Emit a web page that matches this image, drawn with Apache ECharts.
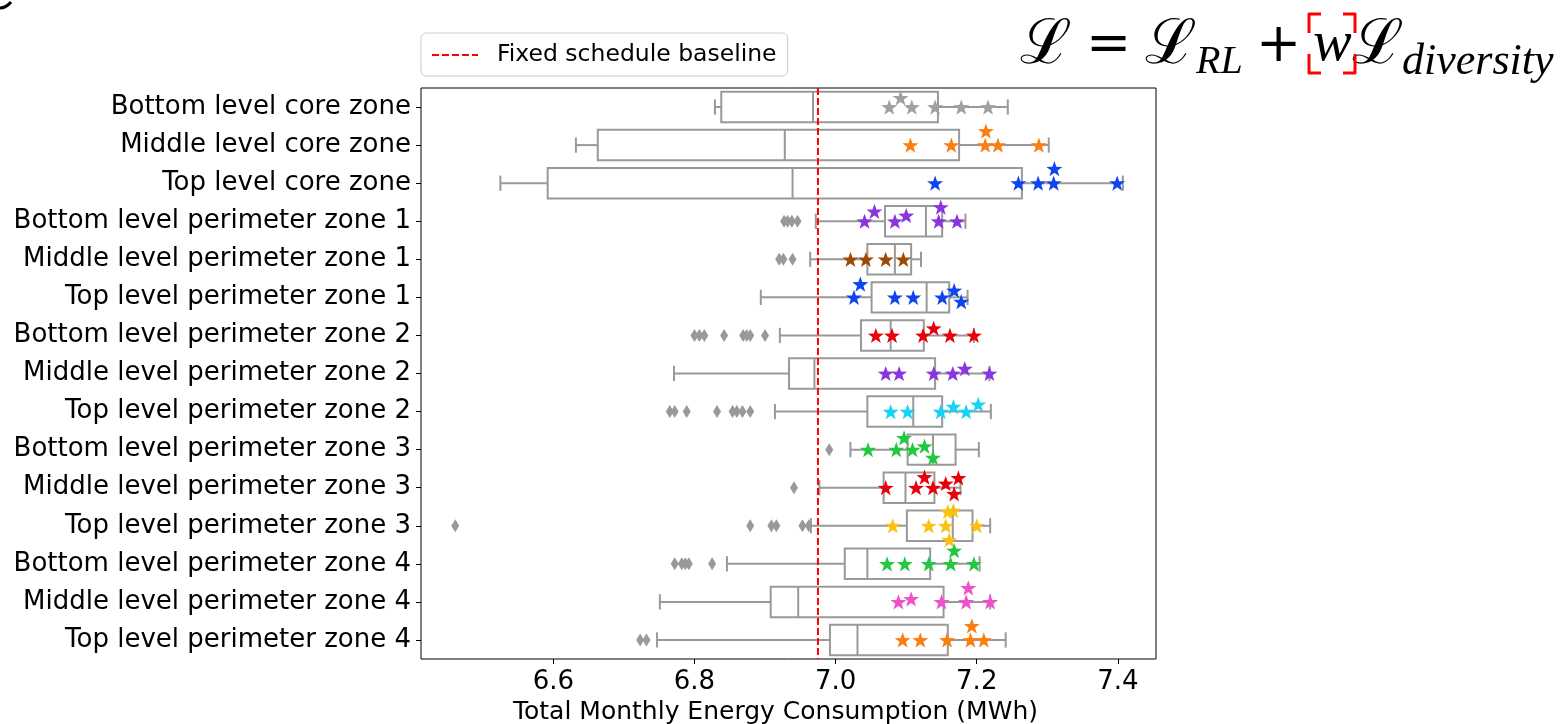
<!DOCTYPE html>
<html>
<head>
<meta charset="utf-8">
<script src="https://cdn.jsdelivr.net/npm/echarts@6/dist/echarts.min.js"></script>
<style>
html,body{margin:0;padding:0;background:#fff;}
#chart{width:1562px;height:724px;}
</style>
</head>
<body>
<div id="chart"></div>
<script>
const categories = [
  'Bottom level core zone', 'Middle level core zone', 'Top level core zone',
  'Bottom level perimeter zone 1', 'Middle level perimeter zone 1', 'Top level perimeter zone 1',
  'Bottom level perimeter zone 2', 'Middle level perimeter zone 2', 'Top level perimeter zone 2',
  'Bottom level perimeter zone 3', 'Middle level perimeter zone 3', 'Top level perimeter zone 3',
  'Bottom level perimeter zone 4', 'Middle level perimeter zone 4', 'Top level perimeter zone 4'
];

// [whisker low, Q1, median, Q3, whisker high]
const boxStats = [
  [6.829, 6.838, 6.968, 7.145, 7.244],
  [6.632, 6.663, 6.928, 7.175, 7.302],
  [6.525, 6.592, 6.939, 7.264, 7.407],
  [6.972, 7.070, 7.128, 7.151, 7.184],
  [6.964, 7.045, 7.084, 7.107, 7.121],
  [6.894, 7.051, 7.129, 7.161, 7.187],
  [6.921, 7.036, 7.078, 7.125, 7.196],
  [6.771, 6.934, 6.970, 7.141, 7.218],
  [6.914, 7.045, 7.110, 7.151, 7.220],
  [7.021, 7.102, 7.138, 7.170, 7.203],
  [6.977, 7.068, 7.099, 7.140, 7.177],
  [6.965, 7.101, 7.166, 7.194, 7.219],
  [6.846, 7.013, 7.045, 7.134, 7.204],
  [6.751, 6.908, 6.947, 7.153, 7.219],
  [6.747, 6.992, 7.031, 7.159, 7.241]
];

const outliers = [
  [], [], [],
  [6.927, 6.932, 6.938, 6.946],
  [6.920, 6.926, 6.939],
  [],
  [6.800, 6.807, 6.814, 6.842, 6.869, 6.874, 6.879, 6.900],
  [],
  [6.765, 6.772, 6.789, 6.832, 6.854, 6.860, 6.868, 6.879],
  [6.991],
  [6.941],
  [6.461, 6.879, 6.909, 6.916, 6.953, 6.962],
  [6.772, 6.782, 6.787, 6.792, 6.825],
  [],
  [6.723, 6.732]
];

// learned-policy results (stars)
const starValues = [
  [7.076, 7.092, 7.108, 7.141, 7.178, 7.216],
  [7.106, 7.164, 7.212, 7.213, 7.230, 7.288],
  [7.141, 7.259, 7.287, 7.309, 7.310, 7.399],
  [7.041, 7.055, 7.084, 7.100, 7.146, 7.149, 7.172],
  [7.021, 7.043, 7.071, 7.096],
  [7.026, 7.035, 7.084, 7.110, 7.151, 7.168, 7.178],
  [7.057, 7.080, 7.124, 7.139, 7.162, 7.196],
  [7.071, 7.090, 7.139, 7.166, 7.183, 7.218],
  [7.078, 7.102, 7.149, 7.167, 7.185, 7.202],
  [7.046, 7.086, 7.097, 7.109, 7.126, 7.138],
  [7.071, 7.114, 7.126, 7.138, 7.156, 7.168, 7.174],
  [7.081, 7.132, 7.156, 7.159, 7.167, 7.161, 7.200],
  [7.073, 7.098, 7.132, 7.163, 7.168, 7.196],
  [7.089, 7.107, 7.150, 7.185, 7.188, 7.219],
  [7.095, 7.120, 7.158, 7.191, 7.193, 7.210]
];
// swarm displacement of each star, in category units (negative = up)
const starLifts = [
  [0, -0.24, 0, 0, 0, 0],
  [0, 0, 0, -0.37, 0, 0],
  [0, 0, 0, 0, -0.38, 0],
  [0, -0.26, 0, -0.15, 0, -0.37, 0],
  [0, 0, 0, 0],
  [0, -0.35, 0, 0, 0, -0.18, 0.11],
  [0, 0, 0, -0.19, 0, 0],
  [0, 0, 0, 0, -0.13, 0],
  [0, 0, 0, -0.13, 0, -0.19],
  [0, 0, -0.31, 0, -0.09, 0.21],
  [0, 0, -0.28, 0, -0.11, 0.16, -0.26],
  [0, 0, 0, -0.37, -0.40, 0.37, 0],
  [0, 0, 0, 0, -0.35, 0],
  [0, -0.08, 0, 0, -0.37, 0],
  [0, 0, 0, 0, -0.37, 0]
];
const starColors = [
  '#a0a0a0', '#f97f10', '#0f45f0', '#8a35e0', '#9c4a08',
  '#0f45f0', '#e8000b', '#8a35e0', '#16d3f5', '#22c840',
  '#e8000b', '#fcc010', '#22c840', '#f050c8', '#f97f10'
];
const baselineValue = 6.975;
const xTicks = [6.6, 6.8, 7.0, 7.2, 7.4];
const xMin = 6.4125, xMax = 7.454;

const FONT = 'DejaVu Sans';
const GRAY = '#999999';
const STAR = 'path://M0,-10L2.35,-3.24L9.51,-3.09L3.8,1.24L5.88,8.09L0,4L-5.88,8.09L-3.8,1.24L-9.51,-3.09L-2.35,-3.24Z';

const boxData = boxStats.map((s, i) => [i].concat(s));
const outlierData = [];
outliers.forEach((row, i) => row.forEach(v => outlierData.push([v, i])));
const starData = [];
starValues.forEach((row, i) => row.forEach((v, j) => starData.push({
  value: [v, i + starLifts[i][j]],
  itemStyle: { color: starColors[i], opacity: 1 }
})));

const chart = echarts.init(document.getElementById('chart'), null, { renderer: 'canvas' });

const option = {
  animation: false,
  backgroundColor: '#fff',
  grid: {
    left: 421, right: 406, top: 88, bottom: 65,
    outerBoundsMode: 'none', containLabel: false,
    show: true, borderColor: '#000', borderWidth: 1, backgroundColor: 'transparent'
  },
  legend: {
    data: [{ name: 'Fixed schedule baseline' }],
    left: 421, top: 33,
    itemWidth: 46, itemHeight: 14,
    selectedMode: false,
    itemStyle: { opacity: 0 },
    borderColor: '#cccccc', borderWidth: 1, borderRadius: 5,
    padding: [10, 11, 9, 10],
    backgroundColor: '#fff',
    textStyle: { fontFamily: FONT, fontSize: 23.5, color: '#000', padding: [0, 0, 0, 14] }
  },
  xAxis: {
    type: 'value', min: xMin, max: xMax,
    splitLine: { show: false },
    axisLine: { show: false, onZero: false },
    axisTick: { show: true, length: 5, lineStyle: { color: '#000' }, customValues: xTicks },
    axisLabel: { fontFamily: FONT, fontSize: 26, color: '#000', margin: 10, customValues: xTicks, formatter: v => v.toFixed(1) },
    name: 'Total Monthly Energy Consumption (MWh)',
    nameLocation: 'middle', nameGap: 38,
    nameTextStyle: { fontFamily: FONT, fontSize: 25, color: '#000', padding: [0, 26, 0, 0] }
  },
  yAxis: [
    {
      type: 'category', data: categories, inverse: true,
      axisLine: { show: false, onZero: false },
      axisTick: { show: true, alignWithLabel: true, length: 5, lineStyle: { color: '#000' } },
      axisLabel: { fontFamily: FONT, fontSize: 26, color: '#000', margin: 10 },
      splitLine: { show: false }
    },
    { type: 'value', min: -0.5, max: 14.5, inverse: true, show: false, axisLine: { onZero: false } }
  ],
  series: [
    {
      type: 'custom', name: 'box',
      xAxisIndex: 0, yAxisIndex: 0,
      encode: { x: [1, 2, 3, 4, 5], y: 0 },
      z: 2,
      data: boxData,
      renderItem: function (params, api) {
        const cat = api.value(0);
        const pt = k => api.coord([api.value(k), cat]);
        const band = api.size([0, 1])[1];
        const hb = band * 0.4, hc = band * 0.2;
        const lo = pt(1), q1 = pt(2), md = pt(3), q3 = pt(4), hi = pt(5);
        const y = lo[1];
        const ls = { stroke: GRAY, lineWidth: 2, fill: null };
        return {
          type: 'group',
          children: [
            { type: 'line', shape: { x1: lo[0], y1: y, x2: q1[0], y2: y }, style: ls },
            { type: 'line', shape: { x1: q3[0], y1: y, x2: hi[0], y2: y }, style: ls },
            { type: 'line', shape: { x1: lo[0], y1: y - hc, x2: lo[0], y2: y + hc }, style: ls },
            { type: 'line', shape: { x1: hi[0], y1: y - hc, x2: hi[0], y2: y + hc }, style: ls },
            { type: 'rect', shape: { x: q1[0], y: y - hb, width: q3[0] - q1[0], height: 2 * hb }, style: { stroke: GRAY, lineWidth: 2, fill: '#fff' } },
            { type: 'line', shape: { x1: md[0], y1: y - hb, x2: md[0], y2: y + hb }, style: ls }
          ]
        };
      }
    },
    {
      type: 'line', name: 'Fixed schedule baseline',
      xAxisIndex: 0, yAxisIndex: 1,
      data: [[baselineValue, -0.5], [baselineValue, 14.5]],
      symbol: 'none', z: 3,
      lineStyle: { color: '#ff0000', width: 2, type: [7, 3] },
      itemStyle: { color: '#ff0000' }
    },
    {
      type: 'scatter', name: 'outliers',
      xAxisIndex: 0, yAxisIndex: 1,
      data: outlierData,
      symbol: 'diamond', symbolSize: [8, 13], z: 3,
      itemStyle: { color: GRAY, opacity: 1 }
    },
    {
      type: 'scatter', name: 'stars',
      xAxisIndex: 0, yAxisIndex: 1,
      data: starData,
      symbol: STAR, symbolSize: [16, 15.2], z: 4
    }
  ],
  graphic: [
    { type: 'bezierCurve', shape: { x1: 0, y1: 8, cpx1: 6, cpy1: 8, x2: 11, y2: 2 }, style: { stroke: '#000', lineWidth: 3, fill: null } },
    { type: 'text', style: { text: '\u2112', x: 1020, y: 47, font: '62px "DejaVu Serif"', fill: '#000', textVerticalAlign: 'middle' } },
    { type: 'text', style: { text: '=', x: 1086, y: 47, font: '54px "DejaVu Serif"', fill: '#000', textVerticalAlign: 'middle' } },
    { type: 'text', style: { text: '\u2112', x: 1145, y: 47, font: '62px "DejaVu Serif"', fill: '#000', textVerticalAlign: 'middle' } },
    { type: 'text', style: { text: 'RL', x: 1196, y: 62, font: 'italic 40px "Liberation Serif"', fill: '#000', textVerticalAlign: 'middle' } },
    { type: 'text', style: { text: '+', x: 1256, y: 47, font: '54px "DejaVu Serif"', fill: '#000', textVerticalAlign: 'middle' } },
    { type: 'text', style: { text: 'w', x: 1313, y: 45, font: 'italic 58px "Liberation Serif"', fill: '#000', textVerticalAlign: 'middle' } },
    { type: 'text', style: { text: '\u2112', x: 1352, y: 47, font: '62px "DejaVu Serif"', fill: '#000', textVerticalAlign: 'middle' } },
    { type: 'text', style: { text: 'diversity', x: 1402, y: 62, font: 'italic 44px "Liberation Serif"', fill: '#000', textVerticalAlign: 'middle' } },
    { type: 'polyline', shape: { points: [[1321, 14], [1309, 14], [1309, 33]] }, style: { stroke: '#ff0000', lineWidth: 3, fill: null, lineJoin: 'round' } },
    { type: 'polyline', shape: { points: [[1343, 14], [1355, 14], [1355, 33]] }, style: { stroke: '#ff0000', lineWidth: 3, fill: null, lineJoin: 'round' } },
    { type: 'polyline', shape: { points: [[1309, 54], [1309, 73], [1321, 73]] }, style: { stroke: '#ff0000', lineWidth: 3, fill: null, lineJoin: 'round' } },
    { type: 'polyline', shape: { points: [[1355, 54], [1355, 73], [1343, 73]] }, style: { stroke: '#ff0000', lineWidth: 3, fill: null, lineJoin: 'round' } }
  ]
};
chart.setOption(option);
</script>
</body>
</html>
